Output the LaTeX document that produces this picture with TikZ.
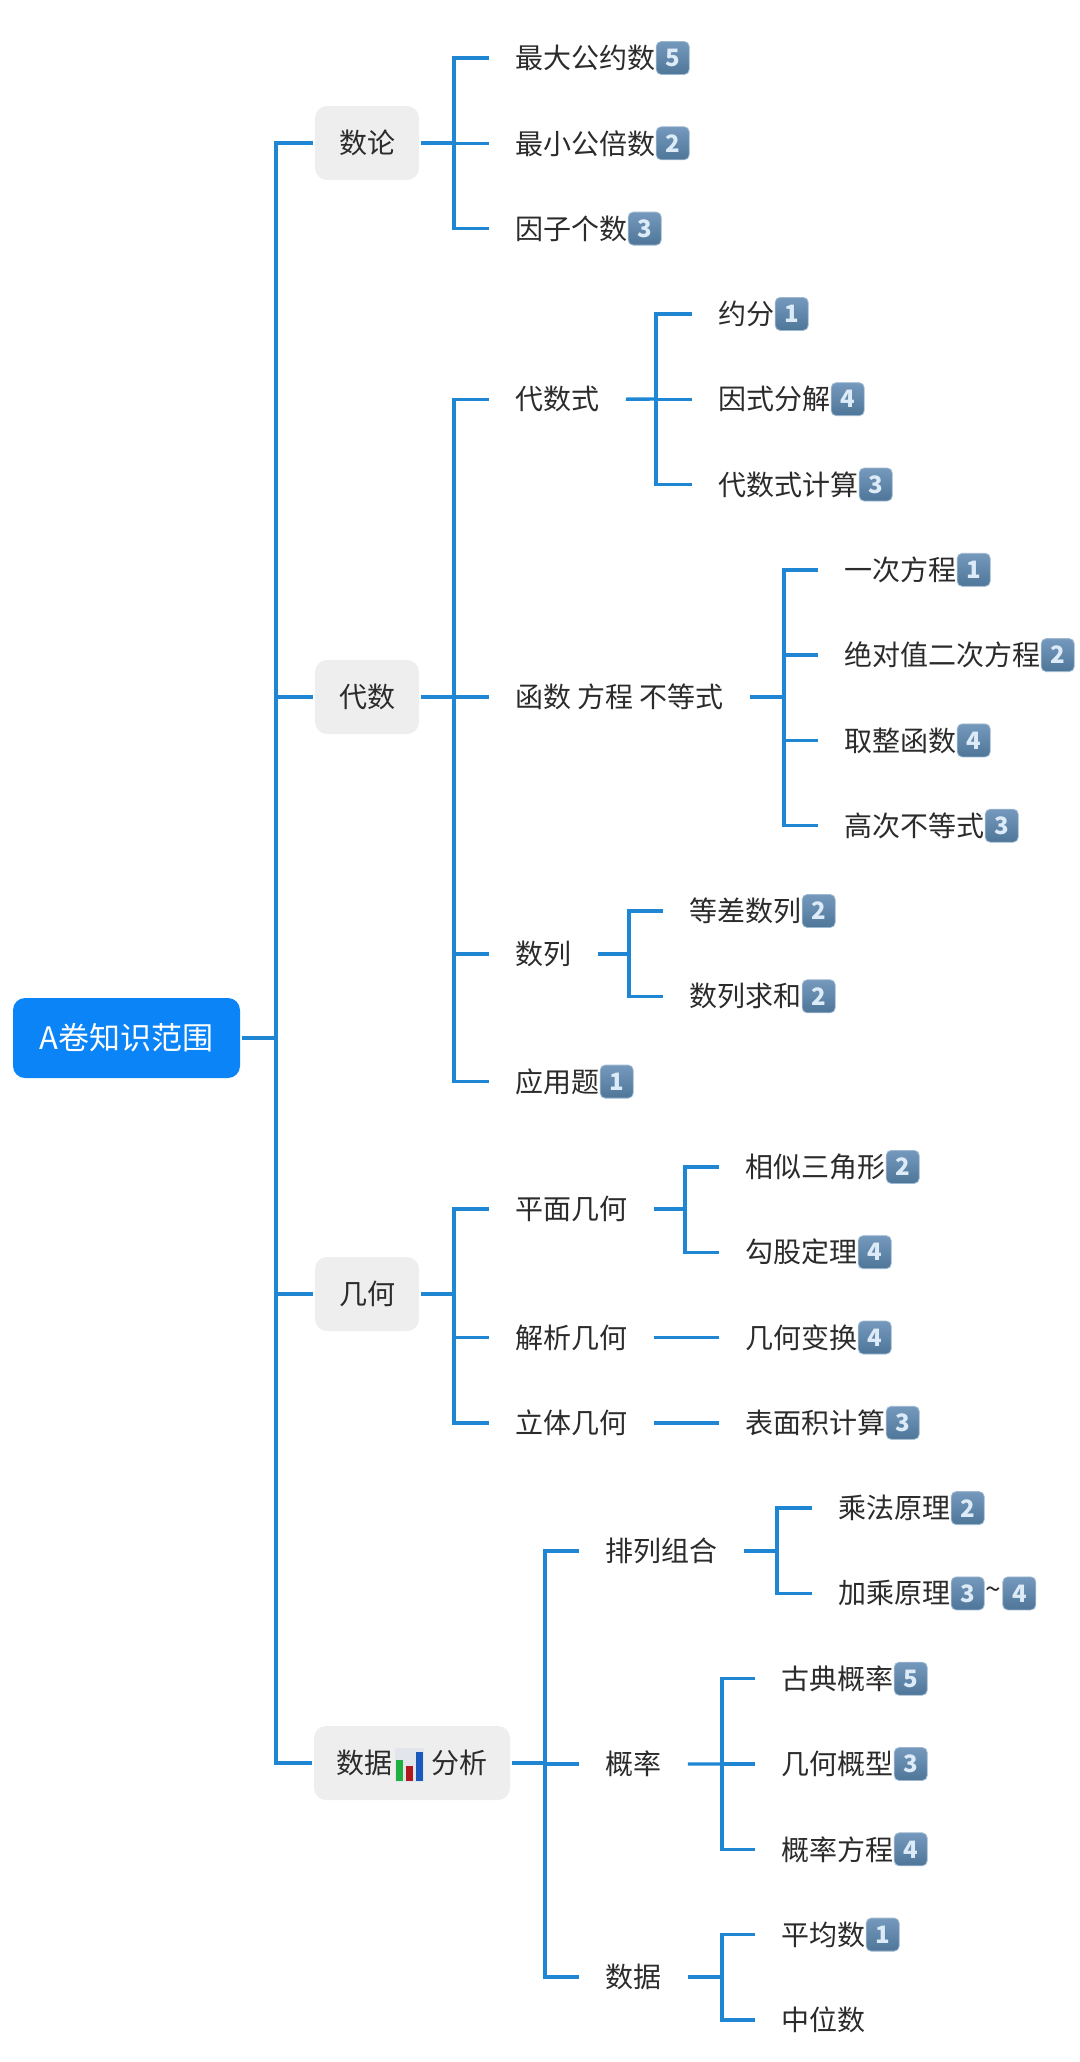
\documentclass[tikz,border=0pt]{standalone}
\usepackage{fontspec}
\setmainfont{Noto Sans CJK SC}
\usetikzlibrary{math,positioning}
\definecolor{linkblue}{HTML}{1E86D2}
\definecolor{rootblue}{HTML}{0A84F6}
\definecolor{boxgray}{HTML}{EEEEEF}
\definecolor{inkgray}{HTML}{2B2B2B}
\definecolor{capup}{HTML}{7599BC}
\definecolor{capdown}{HTML}{4E7699}
\definecolor{capdigit}{HTML}{DCEBF7}
\definecolor{chartback}{HTML}{E2E6EC}
\definecolor{chartgreen}{HTML}{20B040}
\definecolor{chartred}{HTML}{B01A1E}
\definecolor{chartblue}{HTML}{1A5ABA}
\tikzset{
  link/.style={draw=linkblue, line width=1.7pt},
  rootbox/.style={anchor=west, fill=rootblue, text=white, rounded corners=6pt, minimum width=113.5pt, minimum height=40pt, font=\fontsize{15.5}{18}\selectfont, outer sep=1pt},
  subject/.style={anchor=west, fill=boxgray, text=inkgray, rounded corners=6pt, minimum width=52pt, minimum height=37pt, font=\fontsize{14}{17}\selectfont, outer sep=1pt},
  topic/.style={anchor=west, text=inkgray, inner xsep=13pt, inner ysep=0pt, font=\fontsize{14}{17}\selectfont},
  numcap/.style={rounded corners=2.5pt, top color=capup, bottom color=capdown, draw=capup!70!white, line width=0.4pt, text=capdigit, inner sep=0pt, minimum size=16.5pt, font=\fontsize{12}{13}\selectfont\bfseries},
}
\newcommand{\rw}[1]{58+85.3*#1}
\begin{document}
\begin{tikzpicture}[x=0.5pt,y=-0.5pt]
  \useasboundingbox (0,0) rectangle (1080,2062);
  \tikzmath{\ca = 489; \cb = 692; \cc = 818; \cd = 663; \ce = 719; \cf = 579; \cg = 812; \ch = 755;}
  % root and subjects
  \node[rootbox] (root) at (11,1038) {A卷知识范围};
  \node[subject] (shulun) at (313,143) {数论};
  \node[subject] (daishu) at (313,697) {代数};
  \node[subject] (jihe) at (313,1294) {几何};
  \node[subject, minimum width=98pt] (shuju) at (312,1763) {数据\hspace{19.5pt}分析\hspace{2.5pt}};
  % number theory
  \node[topic] (gys) at (\ca,{\rw{0}}) {最大公约数};
  \node[topic] (gbs) at (\ca,{\rw{1}}) {最小公倍数};
  \node[topic] (yzgs) at (\ca,{\rw{2}}) {因子个数};
  % algebra
  \node[topic] (dss) at (\ca,{\rw{4}}) {代数式};
  \node[topic] (yf) at (\cb,{\rw{3}}) {约分};
  \node[topic] (ysfj) at (\cb,{\rw{4}}) {因式分解};
  \node[topic] (dsjs) at (\cb,{\rw{5}}) {代数式计算};
  \node[topic] (hanshu) at (\ca,697) {函数 方程 不等式};
  \node[topic] (ycfc) at (\cc,{\rw{6}}) {一次方程};
  \node[topic] (jdz) at (\cc,{\rw{7}}) {绝对值二次方程};
  \node[topic] (qzhs) at (\cc,{\rw{8}}) {取整函数};
  \node[topic] (gcbd) at (\cc,{\rw{9}}) {高次不等式};
  \node[topic] (shulie) at (\ca,954) {数列};
  \node[topic] (dcsl) at (\cd,{\rw{10}}) {等差数列};
  \node[topic] (slqh) at (\cd,{\rw{11}}) {数列求和};
  \node[topic] (yyt) at (\ca,{\rw{12}}) {应用题};
  % geometry
  \node[topic] (pmjh) at (\ca,1209) {平面几何};
  \node[topic] (xssj) at (\ce,{\rw{13}}) {相似三角形};
  \node[topic] (ggdl) at (\ce,{\rw{14}}) {勾股定理};
  \node[topic] (jxjh) at (\ca,{\rw{15}}) {解析几何};
  \node[topic] (jhbh) at (\ce,{\rw{15}}) {几何变换};
  \node[topic] (ltjh) at (\ca,{\rw{16}}) {立体几何};
  \node[topic] (bmj) at (\ce,{\rw{16}}) {表面积计算};
  % data
  \node[topic] (plzh) at (\cf,1551) {排列组合};
  \node[topic] (cfyl) at (\cg,{\rw{17}}) {乘法原理};
  \node[topic] (jcyl) at (\cg,{\rw{18}}) {加乘原理};
  \node[topic] (gailv) at (\cf,{\rw{20}}) {概率};
  \node[topic] (gdgl) at (\ch,{\rw{19}}) {古典概率};
  \node[topic] (jhgx) at (\ch,{\rw{20}}) {几何概型};
  \node[topic] (glfc) at (\ch,{\rw{21}}) {概率方程};
  \node[topic] (sj) at (\cf,1977) {数据};
  \node[topic] (pjs) at (\ch,{\rw{22}}) {平均数};
  \node[topic] (zws) at (\ch,{\rw{23}}) {中位数};
  % number caps
  \foreach \tp/\n in {gys/5,gbs/2,yzgs/3,yf/1,ysfj/4,dsjs/3,ycfc/1,jdz/2,qzhs/4,gcbd/3,dcsl/2,slqh/2,yyt/1,xssj/2,ggdl/4,jhbh/4,bmj/3,cfyl/2,jcyl/3,gdgl/5,jhgx/3,glfc/4,pjs/1}
    \node[numcap, right=-13pt of \tp] (\tp-cap) {\n};
  \node[inner sep=0pt, text=inkgray, right=0pt of jcyl-cap, minimum width=8.5pt, font=\fontsize{14}{17}\selectfont] (tilde) {\textasciitilde};
  \node[numcap, right=0pt of tilde] (jcyl-capb) {4};
  % bar chart in the data box
  \fill[shift={(shuju.center)},color=chartback] (-17,-15) rectangle (12,19);
  \fill[shift={(shuju.center)},color=chartgreen] (-16,-3) rectangle (-9,18);
  \fill[shift={(shuju.center)},color=chartred] (-6,3) rectangle (1,18);
  \fill[shift={(shuju.center)},color=chartblue] (4,-11) rectangle (11,18);
  % forks
  \coordinate (trunk) at (276,1038);
  \coordinate (fkshulun) at (454,143);
  \coordinate (fkdaishu) at (454,697);
  \coordinate (fkdss) at (656,399);
  \coordinate (fkhanshu) at (784,697);
  \coordinate (fkshulie) at (629,954);
  \coordinate (fkjihe) at (454,1294);
  \coordinate (fkpmjh) at (685,1209);
  \coordinate (fkshuju) at (545,1763);
  \coordinate (fkplzh) at (777,1551);
  \coordinate (fkgailv) at (722,1764);
  \coordinate (fksj) at (722,1977);
  \draw[link] (root.east) -- (trunk);
  \foreach \ch in {shulun,daishu,jihe,shuju} \draw[link] (trunk) |- (\ch.west);
  \draw[link] (shulun.east) -- (fkshulun);
  \foreach \ch in {gys,gbs,yzgs} \draw[link] (fkshulun) |- (\ch.west);
  \draw[link] (daishu.east) -- (fkdaishu);
  \foreach \ch in {dss,hanshu,shulie,yyt} \draw[link] (fkdaishu) |- (\ch.west);
  \draw[link] (dss.east) -- (fkdss);
  \foreach \ch in {yf,ysfj,dsjs} \draw[link] (fkdss) |- (\ch.west);
  \draw[link] (hanshu.east) -- (fkhanshu);
  \foreach \ch in {ycfc,jdz,qzhs,gcbd} \draw[link] (fkhanshu) |- (\ch.west);
  \draw[link] (shulie.east) -- (fkshulie);
  \foreach \ch in {dcsl,slqh} \draw[link] (fkshulie) |- (\ch.west);
  \draw[link] (jihe.east) -- (fkjihe);
  \foreach \ch in {pmjh,jxjh,ltjh} \draw[link] (fkjihe) |- (\ch.west);
  \draw[link] (pmjh.east) -- (fkpmjh);
  \foreach \ch in {xssj,ggdl} \draw[link] (fkpmjh) |- (\ch.west);
  \draw[link] (jxjh.east) -- (jhbh.west);
  \draw[link] (ltjh.east) -- (bmj.west);
  \draw[link] (shuju.east) -- (fkshuju);
  \foreach \ch in {plzh,gailv,sj} \draw[link] (fkshuju) |- (\ch.west);
  \draw[link] (plzh.east) -- (fkplzh);
  \foreach \ch in {cfyl,jcyl} \draw[link] (fkplzh) |- (\ch.west);
  \draw[link] (gailv.east) -- (fkgailv);
  \foreach \ch in {gdgl,jhgx,glfc} \draw[link] (fkgailv) |- (\ch.west);
  \draw[link] (sj.east) -- (fksj);
  \foreach \ch in {pjs,zws} \draw[link] (fksj) |- (\ch.west);
\end{tikzpicture}
\end{document}
